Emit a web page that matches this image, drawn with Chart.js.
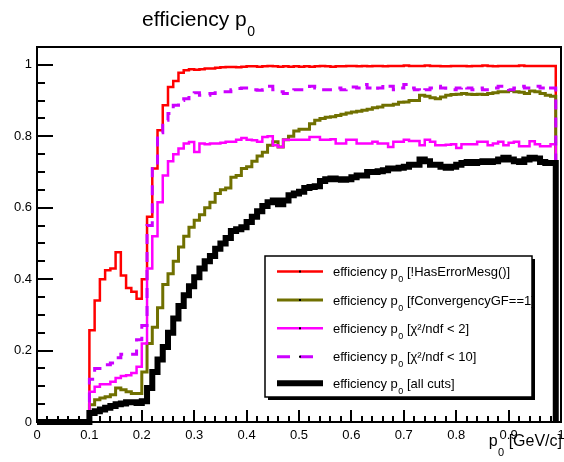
<!DOCTYPE html>
<html>
<head>
<meta charset="utf-8">
<script src="https://cdn.jsdelivr.net/npm/chart.js@4.4.0/dist/chart.umd.min.js"></script>
<style>
body { margin: 0; background: #fff; }
#wrap { width: 564px; height: 462px; }
</style>
</head>
<body>
<div id="wrap"><canvas id="myChart" width="564" height="462"></canvas></div>
<script>
// histogram binning: 0.01 wide bins, first filled bin starts at p0 = 0.10
const binStart = 0.10;
const binWidth = 0.01;

// efficiency per bin, bins 0.10 ... 0.98
const effNoError = [
  0.257, 0.34, 0.40, 0.425, 0.43, 0.475, 0.41, 0.375, 0.365, 0.345,
  0.40, 0.575, 0.71, 0.817, 0.887, 0.938, 0.955, 0.978, 0.985, 0.988,
  0.986, 0.988, 0.99, 0.99, 0.992, 0.993, 0.994, 0.994, 0.993, 0.995,
  0.996, 0.996, 0.995, 0.996, 0.997, 0.996, 0.995, 0.996, 0.995, 0.996,
  0.995, 0.996, 0.995, 0.996, 0.997, 0.996, 0.995, 0.996, 0.996, 0.997,
  0.997, 0.996, 0.997, 0.996, 0.997, 0.997, 0.996, 0.997, 0.997, 0.997,
  0.998, 0.997, 0.997, 0.997, 0.998, 0.997, 0.997, 0.996, 0.996, 0.997,
  0.997, 0.997, 0.996, 0.997, 0.997, 0.998, 0.997, 0.996, 0.997, 0.997,
  0.997, 0.997, 0.998, 0.997, 0.997, 0.997, 0.997, 0.997, 0.997
];
const effConvergency = [
  0.048, 0.062, 0.067, 0.071, 0.076, 0.095, 0.09, 0.085, 0.08, 0.08,
  0.14, 0.22, 0.265, 0.32, 0.385, 0.415, 0.45, 0.49, 0.52, 0.545,
  0.565, 0.58, 0.60, 0.615, 0.64, 0.65, 0.655, 0.685, 0.69, 0.71,
  0.715, 0.73, 0.745, 0.755, 0.775, 0.785, 0.77, 0.79, 0.80, 0.815,
  0.82, 0.82, 0.835, 0.845, 0.85, 0.853, 0.855, 0.858, 0.862, 0.865,
  0.868, 0.87, 0.873, 0.876, 0.88, 0.882, 0.887, 0.887, 0.89, 0.895,
  0.896, 0.90, 0.90, 0.915, 0.912, 0.908, 0.905, 0.91, 0.915, 0.917,
  0.918, 0.92, 0.918, 0.917, 0.918, 0.917, 0.92, 0.922, 0.925, 0.925,
  0.928, 0.925, 0.923, 0.92, 0.927, 0.925, 0.92, 0.915, 0.912
];
const effChi2Lt2 = [
  0.085, 0.099, 0.106, 0.106, 0.113, 0.123, 0.129, 0.131, 0.137, 0.155,
  0.22, 0.43, 0.52, 0.615, 0.69, 0.73, 0.75, 0.766, 0.78, 0.784,
  0.756, 0.78, 0.778, 0.78, 0.78, 0.782, 0.785, 0.785, 0.79, 0.795,
  0.79, 0.789, 0.785, 0.798, 0.80, 0.775, 0.77, 0.79, 0.79, 0.79,
  0.79, 0.79, 0.798, 0.798, 0.79, 0.79, 0.792, 0.78, 0.78, 0.79,
  0.79, 0.78, 0.78, 0.78, 0.785, 0.78, 0.78, 0.77, 0.785, 0.785,
  0.79, 0.787, 0.787, 0.775, 0.79, 0.785, 0.775, 0.775, 0.776, 0.778,
  0.767, 0.778, 0.778, 0.778, 0.785, 0.785, 0.775, 0.78, 0.785, 0.775,
  0.782, 0.785, 0.772, 0.772, 0.786, 0.778, 0.772, 0.772, 0.778
];
const effChi2Lt10 = [
  0.12, 0.15, 0.15, 0.16, 0.165, 0.18, 0.19, 0.19, 0.19, 0.23,
  0.27, 0.55, 0.72, 0.81, 0.845, 0.864, 0.887, 0.90, 0.905, 0.92,
  0.922, 0.915, 0.915, 0.92, 0.922, 0.925, 0.925, 0.93, 0.934, 0.935,
  0.93, 0.93, 0.929, 0.93, 0.94, 0.93, 0.925, 0.92, 0.92, 0.93,
  0.93, 0.935, 0.94, 0.935, 0.93, 0.93, 0.935, 0.935, 0.93, 0.935,
  0.938, 0.935, 0.945, 0.935, 0.93, 0.935, 0.945, 0.94, 0.93, 0.935,
  0.945, 0.935, 0.93, 0.925, 0.93, 0.935, 0.94, 0.935, 0.93, 0.93,
  0.935, 0.94, 0.935, 0.93, 0.935, 0.93, 0.93, 0.935, 0.94, 0.935,
  0.93, 0.935, 0.94, 0.935, 0.935, 0.94, 0.935, 0.93, 0.935
];
const effAllCuts = [
  0.025, 0.03, 0.035, 0.04, 0.045, 0.05, 0.052, 0.055, 0.055, 0.053,
  0.058, 0.095, 0.14, 0.175, 0.21, 0.25, 0.29, 0.325, 0.355, 0.38,
  0.405, 0.43, 0.45, 0.465, 0.485, 0.50, 0.515, 0.535, 0.54, 0.545,
  0.56, 0.575, 0.59, 0.605, 0.615, 0.62, 0.61, 0.62, 0.635, 0.64,
  0.645, 0.655, 0.658, 0.66, 0.675, 0.68, 0.682, 0.68, 0.678, 0.68,
  0.685, 0.69, 0.69, 0.70, 0.70, 0.702, 0.705, 0.71, 0.71, 0.712,
  0.715, 0.72, 0.72, 0.735, 0.73, 0.72, 0.72, 0.715, 0.712, 0.715,
  0.72, 0.725, 0.728, 0.725, 0.728, 0.73, 0.728, 0.73, 0.735, 0.74,
  0.735, 0.73, 0.728, 0.735, 0.74, 0.738, 0.728, 0.725, 0.725
];

const seriesLabels = ['[!HasErrorMesg()]', '[fConvergencyGF==1]', '[\u03C7\u00B2/ndf < 2]', '[\u03C7\u00B2/ndf < 10]', '[all cuts]'];
const xTickValues = [0, 0.1, 0.2, 0.3, 0.4, 0.5, 0.6, 0.7, 0.8, 0.9, 1];
const xTickLabels = ['0', '0.1', '0.2', '0.3', '0.4', '0.5', '0.6', '0.7', '0.8', '0.9', '1'];
const yTickValues = [0, 0.2, 0.4, 0.6, 0.8, 1];
const yTickLabels = ['0', '0.2', '0.4', '0.6', '0.8', '1'];

const FONT = '"Liberation Sans", Arial, Helvetica, sans-serif';

// turn bin contents into step points (zero before first bin and after last)
function toSteps(values) {
    const pts = [{ x: 0, y: 0 }];
    values.forEach((v, i) => pts.push({ x: binStart + i * binWidth, y: v }));
    pts.push({ x: binStart + values.length * binWidth, y: 0 });
    return pts;
}

const styles = [
    { color: '#ff0000', width: 2.5, dash: [] },
    { color: '#707000', width: 3, dash: [] },
    { color: '#ff00ff', width: 2.5, dash: [] },
    { color: '#cc00ff', width: 3, dash: [10, 8] },
    { color: '#000000', width: 6, dash: [] }
];
const allSeries = [effNoError, effConvergency, effChi2Lt2, effChi2Lt10, effAllCuts];

// text with a subscript piece, e.g. "efficiency p" + "0" + " [..]"
function drawSubText(ctx, x, y, pre, sub, post, size, subSize, subDrop) {
    ctx.textAlign = 'left';
    ctx.textBaseline = 'alphabetic';
    ctx.font = size + 'px ' + FONT;
    ctx.fillText(pre, x, y);
    let w = ctx.measureText(pre).width;
    ctx.font = subSize + 'px ' + FONT;
    ctx.fillText(sub, x + w + 0.5, y + subDrop);
    w += ctx.measureText(sub).width + 0.5;
    ctx.font = size + 'px ' + FONT;
    ctx.fillText(post, x + w, y);
    return w + ctx.measureText(post).width;
}

function measureSubText(ctx, pre, sub, post, size, subSize) {
    ctx.font = size + 'px ' + FONT;
    let w = ctx.measureText(pre).width + ctx.measureText(post).width;
    ctx.font = subSize + 'px ' + FONT;
    return w + ctx.measureText(sub).width + 0.5;
}

const legendPlugin = {
    id: 'rootLegend',
    beforeDatasetsDraw(chart) {
        const ctx = chart.ctx;
        ctx.save();
        const bx = 265, by = 256, bw = 267, bh = 141;
        // shadow
        ctx.fillStyle = '#000';
        ctx.fillRect(bx + 3, by + 3, bw, bh);
        ctx.fillStyle = '#fff';
        ctx.fillRect(bx, by, bw, bh);
        ctx.strokeStyle = '#000';
        ctx.lineWidth = 1.5;
        ctx.strokeRect(bx, by, bw, bh);
        const rows = [271.5, 300, 328.3, 356.7, 383.3];
        rows.forEach((ry, i) => {
            const s = styles[i];
            ctx.beginPath();
            ctx.setLineDash(s.dash.length ? [13, 10] : []);
            ctx.strokeStyle = s.color;
            ctx.lineWidth = s.width;
            ctx.moveTo(277, ry);
            ctx.lineTo(323, ry);
            ctx.stroke();
            ctx.setLineDash([]);
            ctx.fillStyle = '#000';
            ctx.fillRect(299, ry - 1, 2, 2);
            ctx.fillStyle = '#000';
            drawSubText(ctx, 333, ry + 4.5, 'efficiency p', '0', ' ' + seriesLabels[i], 13, 9, 6);
        });
        ctx.restore();
    }
};

const framePlugin = {
    id: 'rootFrame',
    afterDatasetsDraw(chart) {
        const ctx = chart.ctx;
        const xs = chart.scales.x, ys = chart.scales.y;
        const a = chart.chartArea;
        ctx.save();
        ctx.strokeStyle = '#000';
        ctx.lineWidth = 2;
        ctx.strokeRect(a.left, a.top, a.right - a.left, a.bottom - a.top);
        // x ticks, drawn upward
        ctx.beginPath();
        for (let k = 0; k <= 50; k++) {
            const px = Math.round(xs.getPixelForValue(k * 0.02)) + 0.0;
            const len = (k % 5 === 0) ? 12 : 6;
            ctx.moveTo(px, a.bottom);
            ctx.lineTo(px, a.bottom - len);
        }
        // y ticks, drawn rightward
        for (let k = 0; k <= 21; k++) {
            const py = Math.round(ys.getPixelForValue(k * 0.05));
            if (py < a.top) continue;
            const len = (k % 4 === 0) ? 16 : 8;
            ctx.moveTo(a.left, py);
            ctx.lineTo(a.left + len, py);
        }
        ctx.lineWidth = 2;
        ctx.stroke();

        ctx.fillStyle = '#000';
        ctx.font = '13px ' + FONT;
        ctx.textAlign = 'center';
        ctx.textBaseline = 'alphabetic';
        xTickValues.forEach((v, i) => {
            ctx.fillText(xTickLabels[i], xs.getPixelForValue(v), 439);
        });
        ctx.textAlign = 'right';
        ctx.textBaseline = 'middle';
        yTickValues.forEach((v, i) => {
            ctx.fillText(yTickLabels[i], 32, ys.getPixelForValue(v));
        });

        // title
        drawSubText(ctx, 142, 26, 'efficiency p', '0', '', 21, 14, 10);
        // x axis title, right aligned to the frame
        const tw = measureSubText(ctx, 'p', '0', ' [GeV/c]', 16, 11);
        drawSubText(ctx, 562 - tw, 446, 'p', '0', ' [GeV/c]', 16, 11, 10);
        ctx.restore();
    }
};

const ctx = document.getElementById('myChart').getContext('2d');
const chart = new Chart(ctx, {
    type: 'line',
    data: {
        datasets: allSeries.map((vals, i) => ({
            label: seriesLabels[i],
            data: toSteps(vals),
            borderColor: styles[i].color,
            borderWidth: styles[i].width,
            borderDash: styles[i].dash,
            stepped: 'before',
            pointRadius: 0,
            fill: false,
            clip: false,
            order: 5 - i
        }))
    },
    options: {
        responsive: false,
        animation: false,
        devicePixelRatio: 1,
        layout: { padding: { left: 37, right: 3, top: 47, bottom: 40 } },
        scales: {
            x: { type: 'linear', min: 0, max: 1, display: false },
            y: { type: 'linear', min: 0, max: 1.05, display: false }
        },
        plugins: {
            legend: { display: false },
            tooltip: { enabled: false }
        }
    },
    plugins: [legendPlugin, framePlugin]
});
</script>
</body>
</html>
